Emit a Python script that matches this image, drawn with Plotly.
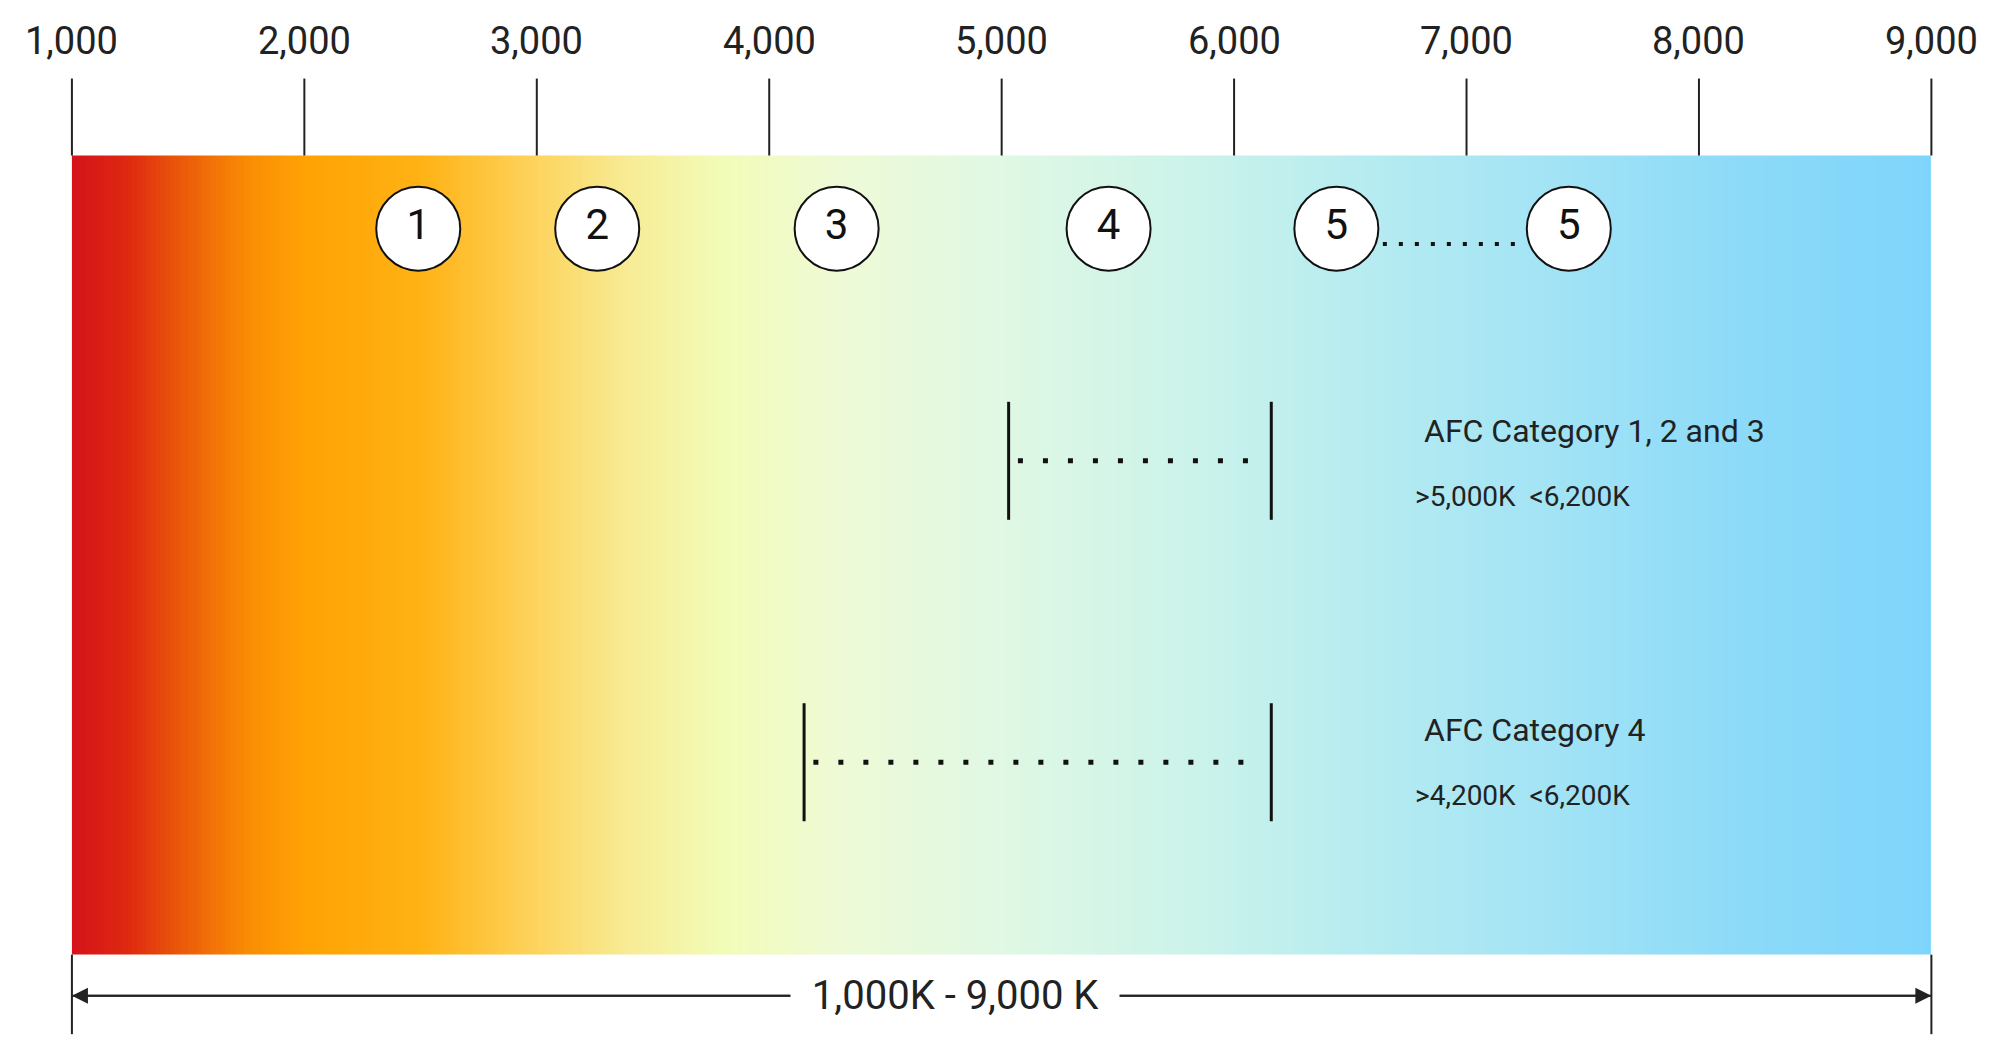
import plotly.graph_objects as go
import numpy as np

tick_vals = [1000, 2000, 3000, 4000, 5000, 6000, 7000, 8000, 9000]
tick_labels = ["1,000", "2,000", "3,000", "4,000", "5,000", "6,000", "7,000", "8,000", "9,000"]
circle_x = [2490, 3260, 4290, 5460, 6440, 7440]
circle_labels = ["1", "2", "3", "4", "5", "5"]
range_starts = [5030, 4150]
range_ends = [6160, 6160]
range_titles = ["AFC Category 1, 2 and 3", "AFC Category 4"]
range_subtitles = [">5,000K  <6,200K", ">4,200K  <6,200K"]
span_label = "1,000K - 9,000 K"

grad_pos = [1000, 1250, 1450, 1750, 2000, 2500, 3000, 3400, 3800, 4300, 5000, 5800, 6500, 7300, 8200, 9000]
grad_col = ["#d4121a", "#df2a10", "#e9560a", "#f98c04", "#ffa204", "#ffb214", "#fdd45e", "#f7ec96",
            "#f2fcb8", "#eefad6", "#e0f8e4", "#ccf3ea", "#b8ecf0", "#a4e4f5", "#8cdaf8", "#7ed5fb"]

X0, X1 = 725, 9364
FONT = "Roboto"
fig = go.Figure()

xs = np.linspace(1000, 9000, 401)
xc = (xs[:-1] + xs[1:]) / 2
cs = [[(p - 1000) / 8000, c] for p, c in zip(grad_pos, grad_col)]
fig.add_trace(go.Heatmap(x=xs, y=[115, 426, 738], z=[xc, xc], zmin=1000, zmax=9000,
                         colorscale=cs, showscale=False, hoverinfo="skip"))

shapes = []
for v in tick_vals:
    shapes.append(dict(type="line", x0=v, x1=v, y0=55, y1=115, line=dict(color="#222", width=2)))
for v in (1000, 9000):
    shapes.append(dict(type="line", x0=v, x1=v, y0=738, y1=800, line=dict(color="#222", width=2)))
for i, (s, e) in enumerate(zip(range_starts, range_ends)):
    yc = [353, 588][i]
    for v in (s, e):
        shapes.append(dict(type="line", x0=v, x1=v, y0=yc - 46, y1=yc + 46, line=dict(color="#111", width=3)))
    fig.add_trace(go.Scatter(x=[s + 40, e - 40], y=[yc, yc], mode="lines",
                             line=dict(color="#111", width=5, dash="5px,20px"), hoverinfo="skip"))
shapes.append(dict(type="line", x0=1000, x1=9000, y0=770, y1=770, line=dict(color="#222", width=2)))
fig.add_trace(go.Scatter(x=[circle_x[4] + 200, circle_x[5] - 200], y=[184, 184], mode="lines",
                         line=dict(color="#111", width=4, dash="4px,12px"), hoverinfo="skip"))

fig.add_trace(go.Scatter(x=circle_x, y=[172] * len(circle_x), mode="markers+text", text=circle_labels,
                         textposition="middle center",
                         textfont=dict(family=FONT, size=42, color="#111"),
                         marker=dict(size=84, color="white", line=dict(color="#111", width=2)),
                         hoverinfo="skip"))

ann = []
for v, t in zip(tick_vals, tick_labels):
    ann.append(dict(x=v, y=26, text=t, showarrow=False, font=dict(family=FONT, size=38, color="#222")))
for i in range(2):
    yt = [330, 563][i]
    ann.append(dict(x=6810, y=yt, text=range_titles[i], showarrow=False, xanchor="left",
                    font=dict(family=FONT, size=32, color="#222")))
    ann.append(dict(x=6770, y=yt + 51, text=range_subtitles[i], showarrow=False, xanchor="left",
                    font=dict(family=FONT, size=28, color="#222")))
for end in (1000, 9000):
    ann.append(dict(x=end, y=770, ax=5000, ay=770, axref="x", ayref="y", xref="x", yref="y",
                    text="", showarrow=True, arrowhead=2, arrowsize=1.6, arrowwidth=2, arrowcolor="#222"))
ann.append(dict(x=4800, y=770, text="&nbsp;&nbsp;" + span_label + "&nbsp;&nbsp;", showarrow=False, bgcolor="white",
                font=dict(family=FONT, size=40, color="#222")))

fig.update_layout(width=2008, height=1039, margin=dict(l=0, r=0, t=0, b=0),
                  plot_bgcolor="white", paper_bgcolor="white", showlegend=False,
                  shapes=shapes, annotations=ann,
                  xaxis=dict(range=[X0, X1], visible=False, fixedrange=True),
                  yaxis=dict(range=[810, 0], visible=False, fixedrange=True))
fig.write_html("out.html")
